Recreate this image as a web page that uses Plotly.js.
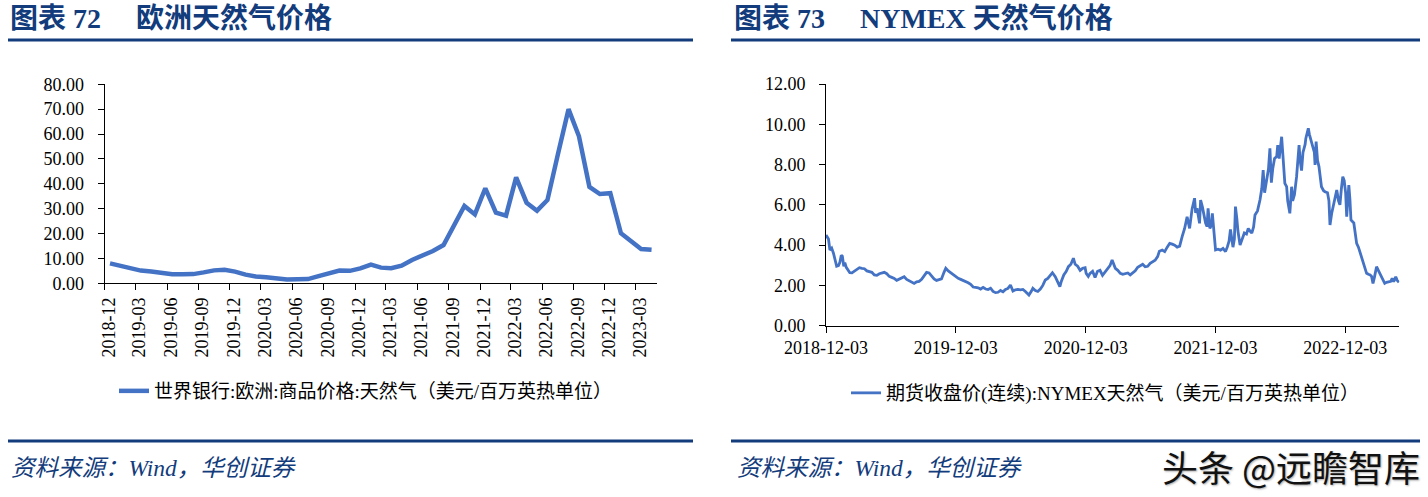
<!DOCTYPE html>
<html>
<head>
<meta charset="utf-8">
<script src="https://cdn.plot.ly/plotly-3.0.1.min.js"></script>
<style>
html,body{margin:0;padding:0;background:#fff;}
#chart{width:1428px;height:497px;}
</style>
</head>
<body>
<div id="chart"></div>
<script>
// ---------- Data: Europe natural gas (World Bank, monthly) ----------
const euMonths = [
  '2018-12',
  '2019-01','2019-02','2019-03','2019-04','2019-05','2019-06','2019-07','2019-08','2019-09','2019-10','2019-11','2019-12',
  '2020-01','2020-02','2020-03','2020-04','2020-05','2020-06','2020-07','2020-08','2020-09','2020-10','2020-11','2020-12',
  '2021-01','2021-02','2021-03','2021-04','2021-05','2021-06','2021-07','2021-08','2021-09','2021-10','2021-11','2021-12',
  '2022-01','2022-02','2022-03','2022-04','2022-05','2022-06','2022-07','2022-08','2022-09','2022-10','2022-11','2022-12',
  '2023-01','2023-02','2023-03','2023-04'
];
const euPrice = [
  8.0,
  7.0, 5.7, 5.1, 4.7, 4.0, 3.6, 3.6, 3.7, 4.4, 5.2, 5.4, 4.7,
  3.5, 2.7, 2.4, 1.9, 1.5, 1.6, 1.7, 2.9, 4.0, 5.1, 5.0, 6.0,
  7.5, 6.3, 6.1, 7.1, 9.4, 11.0, 13.0, 15.4, 23.0, 31.1, 27.7, 38.2,
  28.4, 27.2, 42.6, 32.4, 29.2, 33.5, 51.9, 70.0, 59.1, 38.8, 35.9, 36.2,
  20.1, 16.7, 13.8, 13.5
];
const euName = '世界银行:欧洲:商品价格:天然气（美元/百万英热单位）';

// ---------- Data: NYMEX natural gas continuous futures close ----------
const nyDates = [
  '2018-12-03','2018-12-05','2018-12-10','2018-12-14','2018-12-19','2018-12-24','2018-12-28',
  '2019-01-02','2019-01-07','2019-01-11','2019-01-15','2019-01-18','2019-01-22','2019-01-25','2019-01-29',
  '2019-02-04','2019-02-08','2019-02-14','2019-02-21','2019-02-28','2019-03-07','2019-03-14','2019-03-21','2019-03-28',
  '2019-04-04','2019-04-11','2019-04-18','2019-04-25','2019-05-02','2019-05-09','2019-05-16','2019-05-23','2019-05-30',
  '2019-06-06','2019-06-13','2019-06-20','2019-06-27','2019-07-04','2019-07-11','2019-07-18','2019-07-25',
  '2019-08-01','2019-08-08','2019-08-15','2019-08-22','2019-08-29','2019-09-05','2019-09-12','2019-09-19','2019-09-26',
  '2019-10-03','2019-10-10','2019-10-17','2019-10-24','2019-10-31','2019-11-05','2019-11-12','2019-11-19','2019-11-26',
  '2019-12-03','2019-12-10','2019-12-17','2019-12-24','2019-12-31',
  '2020-01-07','2020-01-14','2020-01-21','2020-01-28','2020-02-04','2020-02-11','2020-02-18','2020-02-25',
  '2020-03-03','2020-03-10','2020-03-17','2020-03-24','2020-03-31','2020-04-07','2020-04-14','2020-04-21','2020-04-28',
  '2020-05-05','2020-05-12','2020-05-19','2020-05-26','2020-06-02','2020-06-09','2020-06-16','2020-06-23','2020-06-26',
  '2020-07-03','2020-07-07','2020-07-14','2020-07-21','2020-07-28','2020-08-04','2020-08-11','2020-08-18','2020-08-25','2020-08-31',
  '2020-09-08','2020-09-15','2020-09-21','2020-09-25','2020-10-02','2020-10-09','2020-10-15','2020-10-22','2020-10-29',
  '2020-11-03','2020-11-10','2020-11-17','2020-11-24','2020-12-01','2020-12-04','2020-12-10','2020-12-15','2020-12-22','2020-12-29',
  '2021-01-05','2021-01-12','2021-01-19','2021-01-26','2021-02-02','2021-02-09','2021-02-15','2021-02-19','2021-02-24',
  '2021-03-03','2021-03-10','2021-03-17','2021-03-24','2021-03-31','2021-04-07','2021-04-14','2021-04-21','2021-04-28',
  '2021-05-05','2021-05-12','2021-05-19','2021-05-26','2021-06-02','2021-06-09','2021-06-16','2021-06-23','2021-06-28',
  '2021-07-06','2021-07-13','2021-07-20','2021-07-27','2021-08-03','2021-08-10','2021-08-17','2021-08-24','2021-08-31',
  '2021-09-07','2021-09-14','2021-09-21','2021-09-28','2021-10-05','2021-10-08','2021-10-12','2021-10-19','2021-10-22','2021-10-27',
  '2021-11-01','2021-11-05','2021-11-09','2021-11-12','2021-11-17','2021-11-22','2021-11-24','2021-11-30',
  '2021-12-03','2021-12-10','2021-12-17','2021-12-24','2021-12-31',
  '2022-01-05','2022-01-10','2022-01-14','2022-01-18','2022-01-21','2022-01-25','2022-01-28',
  '2022-02-01','2022-02-04','2022-02-10','2022-02-15','2022-02-22','2022-02-28',
  '2022-03-05','2022-03-10','2022-03-15','2022-03-20','2022-03-24','2022-03-31',
  '2022-04-07','2022-04-12','2022-04-16','2022-04-20','2022-04-26','2022-05-01','2022-05-05','2022-05-09','2022-05-13','2022-05-18','2022-05-24','2022-05-27','2022-05-31',
  '2022-06-04','2022-06-07','2022-06-10','2022-06-14','2022-06-16','2022-06-21','2022-06-24','2022-06-30',
  '2022-07-05','2022-07-08','2022-07-13','2022-07-19','2022-07-22','2022-07-26','2022-07-29',
  '2022-08-02','2022-08-06','2022-08-12','2022-08-14','2022-08-21','2022-08-24','2022-08-29',
  '2022-09-02','2022-09-07','2022-09-09','2022-09-12','2022-09-16','2022-09-20','2022-09-27',
  '2022-10-03','2022-10-07','2022-10-14','2022-10-18','2022-10-21','2022-10-26','2022-10-31',
  '2022-11-04','2022-11-09','2022-11-14','2022-11-18','2022-11-22','2022-11-26','2022-11-30',
  '2022-12-04','2022-12-07','2022-12-10','2022-12-13','2022-12-16','2022-12-19','2022-12-27',
  '2023-01-04','2023-01-09','2023-01-13','2023-01-17','2023-01-22','2023-01-27',
  '2023-02-01','2023-02-06','2023-02-11','2023-02-15','2023-02-19','2023-02-23',
  '2023-03-01','2023-03-06','2023-03-10','2023-03-16','2023-03-21','2023-03-24','2023-03-29',
  '2023-04-04','2023-04-10','2023-04-14','2023-04-18','2023-04-21','2023-04-24','2023-04-28','2023-05-03'
];
const nyPrice = [
  4.50,4.45,4.30,3.75,3.85,3.60,3.35,
  2.95,2.98,3.15,3.50,3.45,2.95,3.13,2.90,
  2.75,2.63,2.62,2.70,2.80,2.88,2.85,2.83,2.72,
  2.68,2.65,2.52,2.50,2.58,2.60,2.65,2.58,2.45,
  2.40,2.35,2.25,2.30,2.38,2.43,2.30,2.22,
  2.15,2.10,2.18,2.20,2.30,2.45,2.65,2.62,2.45,
  2.32,2.25,2.30,2.32,2.65,2.85,2.72,2.62,2.52,
  2.42,2.35,2.30,2.25,2.20,
  2.13,2.05,1.92,1.90,1.88,1.82,1.90,1.82,
  1.80,1.86,1.70,1.64,1.66,1.75,1.68,1.80,1.85,
  2.02,1.72,1.78,1.80,1.78,1.80,1.70,1.60,1.52,
  1.72,1.86,1.75,1.70,1.82,2.00,2.27,2.35,2.50,2.63,
  2.43,2.20,1.94,2.20,2.52,2.70,2.93,3.05,3.35,
  3.05,2.95,2.75,2.85,2.88,2.60,2.45,2.60,2.70,2.40,
  2.70,2.75,2.50,2.65,2.85,2.98,3.26,3.05,2.85,
  2.75,2.60,2.55,2.57,2.62,2.52,2.62,2.72,2.90,
  2.98,3.05,2.93,2.95,3.10,3.18,3.25,3.43,3.70,
  3.76,3.68,3.90,4.09,4.05,4.00,3.90,3.95,4.42,
  4.83,5.41,4.83,5.80,6.33,5.60,5.83,5.08,6.24,5.90,
  5.41,5.10,4.92,5.83,4.83,5.00,5.58,4.09,
  3.76,3.80,3.75,3.84,3.68,
  3.90,4.20,4.78,4.20,3.90,4.30,5.91,
  5.30,4.70,4.00,4.30,4.60,4.55,
  4.83,4.70,4.60,4.90,5.50,5.70,
  6.24,6.80,7.73,6.60,7.20,7.80,8.81,7.10,7.80,8.30,8.40,8.97,8.30,
  8.80,9.38,8.60,7.50,7.07,6.90,6.20,5.58,
  6.90,6.20,6.50,7.40,8.00,8.97,8.20,
  7.70,8.60,9.00,9.30,9.80,9.50,9.20,
  8.97,8.60,7.98,9.14,8.20,7.90,6.90,
  6.70,6.65,6.60,6.20,5.00,5.60,6.00,
  6.40,6.74,6.20,6.00,6.80,7.40,7.20,
  6.60,5.41,6.20,6.98,6.30,5.25,5.10,
  4.09,3.90,3.68,3.50,3.26,2.90,
  2.60,2.55,2.52,2.45,2.10,2.40,
  2.93,2.75,2.60,2.40,2.25,2.10,2.15,
  2.18,2.20,2.35,2.18,2.30,2.43,2.25,2.15
];
const nyName = '期货收盘价(连续):NYMEX天然气（美元/百万英热单位）';

// ---------- Text ----------
const titleLeft = '<b>图表 72\u2003 欧洲天然气价格</b>';
const titleRight = '<b>图表 73\u2003 NYMEX 天然气价格</b>';
const sourceText = '<i>资料来源：Wind，华创证券</i>';
const watermark = '头条 @远瞻智库';

// ---------- Helpers (pixel -> paper) ----------
const W = 1428, H = 497;
const px = v => v / W;
const py = v => 1 - v / H;

const SERIF = 'Liberation Serif, "Noto Sans CJK SC", serif';
const NAVY = '#123C7C';
const BLUE = '#4472C4';

const traces = [
  {
    x: euMonths, y: euPrice, xperiod: 'M1', xperiodalignment: 'middle',
    type: 'scatter', mode: 'lines', name: euName,
    line: {color: BLUE, width: 4.5},
    xaxis: 'x', yaxis: 'y', legend: 'legend', hoverinfo: 'skip'
  },
  {
    x: nyDates, y: nyPrice,
    type: 'scatter', mode: 'lines', name: nyName,
    line: {color: BLUE, width: 2.8},
    xaxis: 'x2', yaxis: 'y2', legend: 'legend2', hoverinfo: 'skip'
  }
];

const axisCommon = {
  showline: true, linecolor: '#000', linewidth: 1,
  ticks: 'outside', ticklen: 6, tickwidth: 1, tickcolor: '#000',
  showgrid: false, zeroline: false, fixedrange: true,
  tickfont: {family: SERIF, size: 18, color: '#000'}
};

const layout = {
  width: W, height: H,
  margin: {l: 0, r: 0, t: 0, b: 0},
  paper_bgcolor: '#fff', plot_bgcolor: 'rgba(0,0,0,0)',
  showlegend: true,
  xaxis: Object.assign({}, axisCommon, {
    domain: [px(104.7), px(656.7)], anchor: 'y', type: 'date',
    range: ['2018-12-01', '2023-05-01'],
    tick0: '2018-12-01', dtick: 'M3', tickformat: '%Y-%m',
    tickangle: -90, ticklabelshift: 4
  }),
  yaxis: Object.assign({}, axisCommon, {
    domain: [py(283.3), py(84.3)], anchor: 'x',
    range: [0, 80], tick0: 0, dtick: 10, tickformat: '.2f',
    ticklabelstandoff: 10
  }),
  xaxis2: Object.assign({}, axisCommon, {
    domain: [px(826), px(1399.3)], anchor: 'y2', type: 'date',
    range: ['2018-12-03', '2023-05-04'],
    tick0: '2018-12-03', dtick: 'M12', tickformat: '%Y-%m-%d',
    tickangle: 0
  }),
  yaxis2: Object.assign({}, axisCommon, {
    domain: [py(325.7), py(84)], anchor: 'x2',
    range: [0, 12], tick0: 0, dtick: 2, tickformat: '.2f',
    ticklabelstandoff: 10
  }),
  legend: {
    x: px(114), y: py(391), xanchor: 'left', yanchor: 'middle',
    orientation: 'h', bgcolor: 'rgba(0,0,0,0)', borderwidth: 0,
    font: {family: SERIF, size: 19, color: '#000'}
  },
  legend2: {
    x: px(846), y: py(393), xanchor: 'left', yanchor: 'middle',
    orientation: 'h', bgcolor: 'rgba(0,0,0,0)', borderwidth: 0,
    font: {family: SERIF, size: 19, color: '#000'}
  },
  shapes: [
    {type: 'line', xref: 'paper', yref: 'paper', x0: px(8), x1: px(693), y0: py(40), y1: py(40), line: {color: NAVY, width: 3}},
    {type: 'line', xref: 'paper', yref: 'paper', x0: px(731), x1: px(1420), y0: py(40), y1: py(40), line: {color: NAVY, width: 3}},
    {type: 'line', xref: 'paper', yref: 'paper', x0: px(8), x1: px(693), y0: py(441), y1: py(441), line: {color: NAVY, width: 3}},
    {type: 'line', xref: 'paper', yref: 'paper', x0: px(731), x1: px(1420), y0: py(441), y1: py(441), line: {color: NAVY, width: 3}}
  ],
  annotations: [
    {text: titleLeft, xref: 'paper', yref: 'paper', x: px(8), y: py(18), xanchor: 'left', yanchor: 'middle', showarrow: false,
     font: {family: SERIF, size: 28, color: NAVY}},
    {text: titleRight, xref: 'paper', yref: 'paper', x: px(732), y: py(18), xanchor: 'left', yanchor: 'middle', showarrow: false,
     font: {family: SERIF, size: 28, color: NAVY}},
    {text: sourceText, xref: 'paper', yref: 'paper', x: px(9), y: py(468), xanchor: 'left', yanchor: 'middle', showarrow: false,
     font: {family: SERIF, size: 23.5, color: NAVY}},
    {text: sourceText, xref: 'paper', yref: 'paper', x: px(735), y: py(468), xanchor: 'left', yanchor: 'middle', showarrow: false,
     font: {family: SERIF, size: 23.5, color: NAVY}},
    {text: watermark, xref: 'paper', yref: 'paper', x: px(1422), y: py(466), xanchor: 'right', yanchor: 'middle', showarrow: false,
     font: {family: '"Noto Sans CJK SC", sans-serif', size: 36, color: '#111', shadow: '1px 1px 2px #aaa'}}
  ]
};

Plotly.newPlot('chart', traces, layout, {displayModeBar: false, staticPlot: true});
</script>
</body>
</html>
